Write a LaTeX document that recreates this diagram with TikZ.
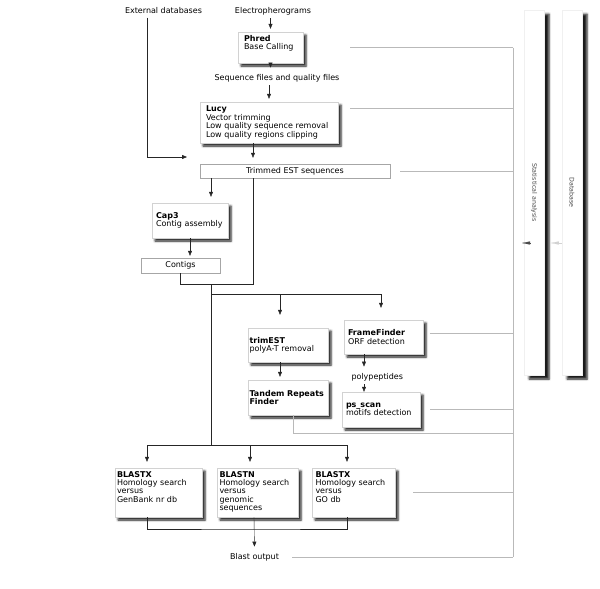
\documentclass[tikz,border=0pt]{standalone}
\usepackage{fontspec}
\setmainfont{DejaVu Sans}
\usetikzlibrary{arrows.meta,shadows.blur}

\begin{document}
\begin{tikzpicture}[x=1pt,y=-1pt,>={Triangle[length=5pt,width=4pt]},
  every node/.style={font=\fontsize{8}{8.4}\selectfont},
  tool/.style={draw=gray!35,fill=white,align=left,inner ysep=3pt,
    blur shadow={shadow xshift=3pt,shadow yshift=-3pt,shadow blur steps=4,shadow opacity=90}},
  plain/.style={draw=gray!70,fill=white,inner sep=0pt},
  flow/.style={->,shorten >=3pt,black!85},
  link/.style={gray!55,line width=0.6pt},
  feed/.style={-{Triangle[length=8pt,width=3pt]},line width=0.1pt},
  bar/.style={draw=gray!12,fill=white,minimum width=20pt,minimum height=365pt,
    blur shadow={shadow xshift=5pt,shadow yshift=-4pt,shadow blur steps=5,shadow opacity=90}},
  side/.style={rotate=-90,text=gray!60!black,font=\fontsize{6.3}{7}\selectfont}]
\useasboundingbox (0,0) rectangle (600,589);

% sources
\node (extdb) at (163.5,11) {External databases};
\node (ephero) at (273,11) {Electropherograms};
\node[tool,text width=53pt,inner xsep=6pt,text height=6pt,text depth=19pt] (phred) at (270.5,47.5) {\textbf{Phred}\\Base Calling};
\node (seqfiles) at (277,78) {Sequence files and quality files};
\node[tool,text width=126pt,inner xsep=6pt,minimum height=41pt] (lucy) at (269,122.5) {\textbf{Lucy}\\Vector trimming\\Low quality sequence removal\\Low quality regions clipping};
\node[plain,minimum width=190pt,minimum height=14pt] (trimmed) at (295,171) {Trimmed EST sequences};
\node[tool,text width=68pt,inner xsep=4pt,minimum height=35pt] (cap3) at (190,220.5) {\textbf{Cap3}\\Contig assembly};
\node[plain,minimum width=79pt,minimum height=15pt] (contigs) at (180.5,265.5) {Contigs};

% analysis tools
\node[tool,text width=77pt,inner xsep=1.5pt,minimum height=34pt] (trimest) at (288,345) {\textbf{trimEST}\\polyA-T removal};
\node[tool,text width=77pt,inner xsep=1.5pt,minimum height=35pt] (tandem) at (288,397.5) {\textbf{Tandem Repeats}\\\textbf{Finder}};
\node[tool,text width=71pt,inner xsep=4pt,minimum height=34pt] (frame) at (383.5,337) {\textbf{FrameFinder}\\ORF detection};
\node[anchor=west] (polypep) at (348,377) {polypeptides};
\node[tool,text width=70pt,inner xsep=4pt,minimum height=35pt] (psscan) at (381,409.5) {\textbf{ps\_scan}\\motifs detection};

% homology searches
\node[tool,text width=83pt,inner xsep=2pt,text height=6pt,text depth=37pt] (bx1) at (158.5,492.5) {\textbf{BLASTX}\\Homology search\\versus\\GenBank nr db};
\node[tool,text width=76pt,inner xsep=2.5pt,text height=6pt,text depth=37pt] (bxn) at (257.5,492.5) {\textbf{BLASTN}\\Homology search\\versus\\genomic\\sequences};
\node[tool,text width=76pt,inner xsep=3.5pt,text height=6pt,text depth=37pt] (bx2) at (353.5,492.5) {\textbf{BLASTX}\\Homology search\\versus\\GO db};
\node (blastout) at (254.5,557) {Blast output};

% side columns
\node[bar,label={[side]center:Statistical analysis}] (stats) at (534,192.5) {};
\node[bar,label={[side]center:Database}] (dbase) at (572,192.5) {};

\coordinate (bus) at (513,0);
\coordinate (trunk) at (211,284);
\coordinate (seam) at (253,284);
\coordinate (split) at (211,294);
\coordinate (fan) at (211,445);
\coordinate (gather) at (254,529);
\coordinate (extin) at (190,157);
\coordinate (statsin) at (522,243);

% main flow
\draw[flow] (ephero.south -| phred) -- (phred.north);
\draw[flow] (phred.south) -- (seqfiles.north -| phred);
\draw[flow] (seqfiles.south -| lucy) -- (lucy.north);
\draw[flow,shorten >=6pt] (lucy.south -| seam) -- (trimmed.north -| seam);
\draw[flow] ([xshift=-16.5pt]extdb.south) |- (extin);
\draw[flow,shorten >=6pt] (trimmed.south -| trunk) -- (cap3.north -| trunk);
\draw[flow,shorten >=2pt] (cap3.south) -- (contigs.north -| cap3.south);
\draw[black!85] (contigs.south) |- (seam) -- (trimmed.south -| seam);
\draw[black!85] (trunk) -- (fan);
\draw[flow,shorten >=13pt] (split) -| ([xshift=-8pt]trimest.north);
\draw[flow,shorten >=12pt] ([xshift=-8pt]trimest.north |- split) -| ([xshift=-2.5pt]frame.north);
\draw[flow] ([xshift=-8pt]trimest.south) -- ([xshift=-8pt]tandem.north);
\draw[flow] ([xshift=-19.5pt]frame.south) -- ([xshift=-19.5pt]frame.south |- polypep.north);
\draw[flow,shorten >=0pt] ([xshift=-19.5pt]frame.south |- polypep.south) -- ([xshift=-19.5pt]frame.south |- psscan.north);
\draw[flow,shorten >=6pt] (fan) -| ([xshift=-11.5pt]bx1.north);
\draw[flow,shorten >=6pt] (fan) -| ([xshift=-7.5pt]bxn.north);
\draw[flow,shorten >=6pt] (fan) -| ([xshift=-6.5pt]bx2.north);
\draw[black!85] ([xshift=-11.5pt]bx1.south) |- (gather) -| ([xshift=-6.5pt]bx2.south);
\draw[flow] ([xshift=-3.5pt]bxn.south) -- (blastout.north);

% links to the statistics
\draw[link] (phred.east -| bus) -- (blastout.east -| bus);
\draw[link] ([xshift=47pt]phred.east) -- (phred.east -| bus);
\draw[link] ([xshift=12pt,yshift=14.5pt]lucy.east) -- ([yshift=14.5pt]lucy.east -| bus);
\draw[link] ([xshift=10pt]trimmed.east) -- (trimmed.east -| bus);
\draw[link] ([xshift=6.5pt,yshift=4pt]frame.east) -- ([yshift=4pt]frame.east -| bus);
\draw[link] ([xshift=10pt]psscan.east) -- (psscan.east -| bus);
\draw[link] ([xshift=5pt]tandem.south) -- ++(0,18) coordinate (tr) -- (tr -| bus);
\draw[link] ([xshift=18pt]bx2.east) -- (bx2.east -| bus);
\draw[link] ([xshift=10pt]blastout.east) -- (blastout.east -| bus);
\draw[feed,gray!60!black] ([xshift=8pt]statsin) -- (statsin);
\draw[feed,gray!35] (dbase.west |- statsin) -- ([xshift=-11pt]dbase.west |- statsin);
\end{tikzpicture}
\end{document}
